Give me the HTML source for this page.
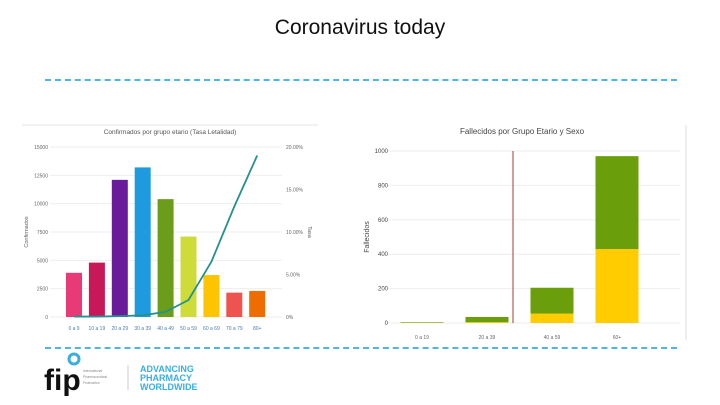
<!DOCTYPE html>
<html><head><meta charset="utf-8"><style>
body{margin:0;width:720px;height:405px;background:#fff;overflow:hidden;font-family:"Liberation Sans",sans-serif;position:relative}
.t{position:absolute;left:0;width:720px;top:16px;text-align:center;font-size:21px;color:#111}
.dash{position:absolute;left:45px;width:632px;height:0;border-top:2px dashed #4db6e6}
</style></head><body>
<div class="t">Coronavirus today</div>
<div class="dash" style="top:79px"></div>
<div class="dash" style="top:347px"></div>
<svg id="c1" width="720" height="405" style="position:absolute;left:0;top:0">
<line x1="22" y1="125" x2="318" y2="125" stroke="#e6e6e6"/>
<text x="170" y="134" font-size="6.5" text-anchor="middle" fill="#555">Confirmados por grupo etario (Tasa Letalidad)</text>
<text transform="translate(28,232) rotate(-90)" font-size="5.5" text-anchor="middle" fill="#666">Confirmados</text>
<text transform="translate(308,232) rotate(90)" font-size="5.5" text-anchor="middle" fill="#666">Tasa</text>
<g id="g1"></g>
<line x1="686" y1="125" x2="686" y2="340" stroke="#ddd"/>
<text x="522" y="134" font-size="8" text-anchor="middle" fill="#444">Fallecidos por Grupo Etario y Sexo</text>
<text transform="translate(369,237) rotate(-90)" font-size="7" text-anchor="middle" fill="#444">Fallecidos</text>
<g id="g2"></g>
<text x="44" y="390" font-size="30" font-weight="bold" fill="#111">fip</text>
<circle cx="74" cy="359" r="5" fill="none" stroke="#3aaee0" stroke-width="3"/>
<text x="83" y="372" font-size="3.5" fill="#888">International</text>
<text x="83" y="378" font-size="3.5" fill="#888">Pharmaceutical</text>
<text x="83" y="384" font-size="3.5" fill="#888">Federation</text>
<line x1="128" y1="365" x2="128" y2="390" stroke="#ccc"/>
<text x="140" y="372" font-size="9" font-weight="bold" fill="#3aaee0">ADVANCING</text>
<text x="140" y="381" font-size="9" font-weight="bold" fill="#3aaee0">PHARMACY</text>
<text x="140" y="390" font-size="9" font-weight="bold" fill="#3aaee0">WORLDWIDE</text>
</svg>
<script>
const ages=["0 a 9","10 a 19","20 a 29","30 a 39","40 a 49","50 a 59","60 a 69","70 a 79","80+"];
const confirmados=[3900,4800,12100,13200,10400,7100,3700,2150,2300];
const tasa=[0.05,0.05,0.1,0.2,0.6,2.0,6.5,13,19];
const colors=["#e93a78","#c8185a","#6a1b9a","#1e9be0","#6a9e1a","#cddc39","#ffc400","#ef5350","#ef6c00"];
const leftTicks=[0,2500,5000,7500,10000,12500,15000];
const rightTicks=[0,5,10,15,20];
const groups2=["0 a 19","20 a 39","40 a 59","60+"];
const mujeres=[2,5,55,430];
const hombres=[3,30,150,540];
const ticks2=[0,200,400,600,800,1000];
const NS="http://www.w3.org/2000/svg";
function mk(p,t,a){const e=document.createElementNS(NS,t);for(const k in a)e.setAttribute(k,a[k]);p.appendChild(e);return e;}
const g1=document.getElementById('g1');
const y1=v=>317-v/15000*170, yr=v=>317-v/20*170, x1=i=>74+i*22.9;
leftTicks.forEach(t=>{mk(g1,'line',{x1:50,x2:282,y1:y1(t),y2:y1(t),stroke:'#eee'});const e=mk(g1,'text',{x:48,y:y1(t)+2,'font-size':5,'text-anchor':'end',fill:'#666'});e.textContent=t;

});
rightTicks.forEach(t=>{const e=mk(g1,'text',{x:286,y:yr(t)+2,'font-size':5,fill:'#666'});e.textContent=t===0?'0%':t.toFixed(2)+'%';

});
confirmados.forEach((v,i)=>{const r=mk(g1,'rect',{x:x1(i)-8,y:y1(v),width:16,height:317-y1(v),fill:colors[i]});


const e=mk(g1,'text',{x:x1(i),y:330,'font-size':5,'text-anchor':'middle',fill:'#4a7bb0'});e.textContent=ages[i];

});
const pl=mk(g1,'polyline',{points:tasa.map((v,i)=>x1(i)+','+yr(v)).join(' '),fill:'none',stroke:'#26908f','stroke-width':1.8});


const g2=document.getElementById('g2');
const y2=v=>323-v/1000*172, x2=i=>422+i*65;
ticks2.forEach(t=>{mk(g2,'line',{x1:388,x2:680,y1:y2(t),y2:y2(t),stroke:'#eee'});const e=mk(g2,'text',{x:388,y:y2(t)+2,'font-size':6,'text-anchor':'end',fill:'#444'});e.textContent=t;

});
groups2.forEach((g,i)=>{const f=mk(g2,'rect',{x:x2(i)-21.5,y:y2(mujeres[i]),width:43,height:323-y2(mujeres[i]),fill:'#ffcc00'});


const m=mk(g2,'rect',{x:x2(i)-21.5,y:y2(mujeres[i]+hombres[i]),width:43,height:y2(mujeres[i])-y2(mujeres[i]+hombres[i]),fill:'#6a9e0a'});


const e=mk(g2,'text',{x:x2(i),y:339,'font-size':5,'text-anchor':'middle',fill:'#666'});e.textContent=g;

});
const vl=mk(g2,'line',{x1:513,x2:513,y1:151,y2:323,stroke:'#a33a3a','stroke-width':1});


</script>
</body></html>
